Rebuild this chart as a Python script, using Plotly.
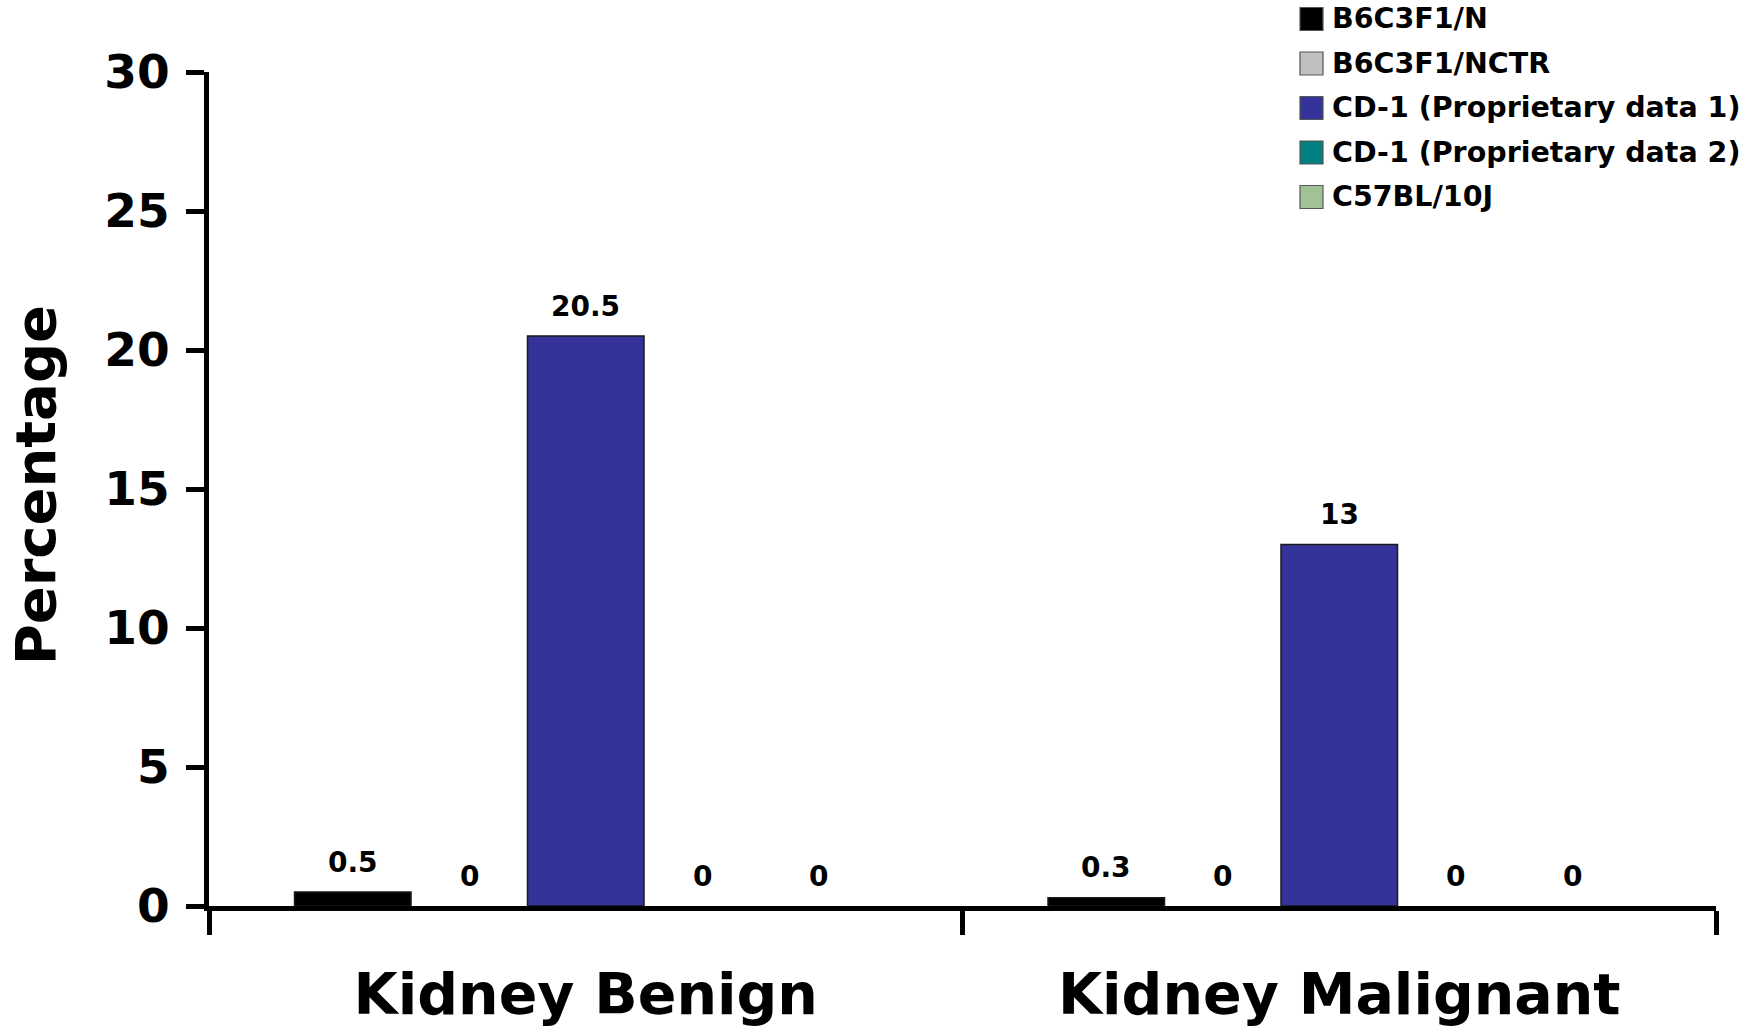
import plotly.graph_objects as go

# Tumour incidence by strain
categories = ["Kidney Benign", "Kidney Malignant"]
strains = [
    "B6C3F1/N",
    "B6C3F1/NCTR",
    "CD-1 (Proprietary data 1)",
    "CD-1 (Proprietary data 2)",
    "C57BL/10J",
]
benign = [0.5, 0, 20.5, 0, 0]
malignant = [0.3, 0, 13, 0, 0]
colors = ["#000000", "#C0C0C0", "#333399", "#008080", "#A2C295"]
y_ticks = [0, 5, 10, 15, 20, 25, 30]

FONT = "DejaVu Sans"
W, H = 1764, 1028
ML, MR, MT, MB = 209, 48, 72, 122
BARGAP = 0.227

fig = go.Figure()
for k, name in enumerate(strains):
    vals = [benign[k], malignant[k]]
    fig.add_trace(go.Bar(
        x=categories,
        y=vals,
        name=name,
        marker=dict(color=colors[k],
                    line=dict(color="#1a1a1a", width=[1.5 if v > 0 else 0 for v in vals])),
        showlegend=False,
    ))

# value labels above each bar
n = len(strains)
bw = (1 - BARGAP) / n
annotations = []
for i, vals in enumerate([benign, malignant]):
    for k, v in enumerate(vals):
        annotations.append(dict(
            x=i + (k - (n - 1) / 2) * bw, y=v, xref="x", yref="y",
            text=f"{v:g}", showarrow=False, yanchor="middle", yshift=30,
            font=dict(family=FONT, size=28, color="black", weight="bold"),
        ))

# y-axis title
annotations.append(dict(
    x=-0.115, y=0.504, xref="paper", yref="paper", text="Percentage",
    textangle=-90, showarrow=False, xanchor="center", yanchor="middle",
    font=dict(family=FONT, size=56, color="black", weight="bold"),
))

# legend in the top-right corner
plot_h = H - MT - MB
plot_w = W - ML - MR
shapes = []
sw = 23
for k, name in enumerate(strains):
    cy = 19 + k * 44.5
    y0 = (H - MB - (cy + sw / 2)) / plot_h
    y1 = (H - MB - (cy - sw / 2)) / plot_h
    x0 = (1300 - ML) / plot_w
    x1 = (1300 + sw - ML) / plot_w
    shapes.append(dict(type="rect", xref="paper", yref="paper",
                       x0=x0, x1=x1, y0=y0, y1=y1,
                       fillcolor=colors[k], line=dict(color="#555555", width=1.2)))
    annotations.append(dict(
        x=(1330 - ML) / plot_w, y=(H - MB - cy) / plot_h, xref="paper", yref="paper",
        text=name, showarrow=False, xanchor="left", yanchor="middle",
        font=dict(family=FONT, size=28.5, color="black", weight="bold"),
    ))

fig.update_layout(
    width=W, height=H,
    margin=dict(l=ML, r=MR, t=MT, b=MB, autoexpand=False),
    paper_bgcolor="white", plot_bgcolor="white",
    barmode="group", bargap=BARGAP, bargroupgap=0,
    annotations=annotations, shapes=shapes,
    showlegend=False,
)
fig.update_xaxes(
    showline=True, linecolor="black", linewidth=5,
    ticks="outside", tickson="boundaries", ticklen=24, tickwidth=5, tickcolor="black",
    tickfont=dict(family=FONT, size=57, color="black", weight="bold"),
    ticklabelstandoff=35, showgrid=False, zeroline=False,
)
fig.update_yaxes(
    range=[0, 30], tickvals=y_ticks,
    showline=True, linecolor="black", linewidth=5,
    ticks="outside", ticklen=18, tickwidth=5, tickcolor="black",
    tickfont=dict(family=FONT, size=47, color="black", weight="bold"),
    ticklabelstandoff=7, showgrid=False, zeroline=False,
)

fig.write_html("out.html")
